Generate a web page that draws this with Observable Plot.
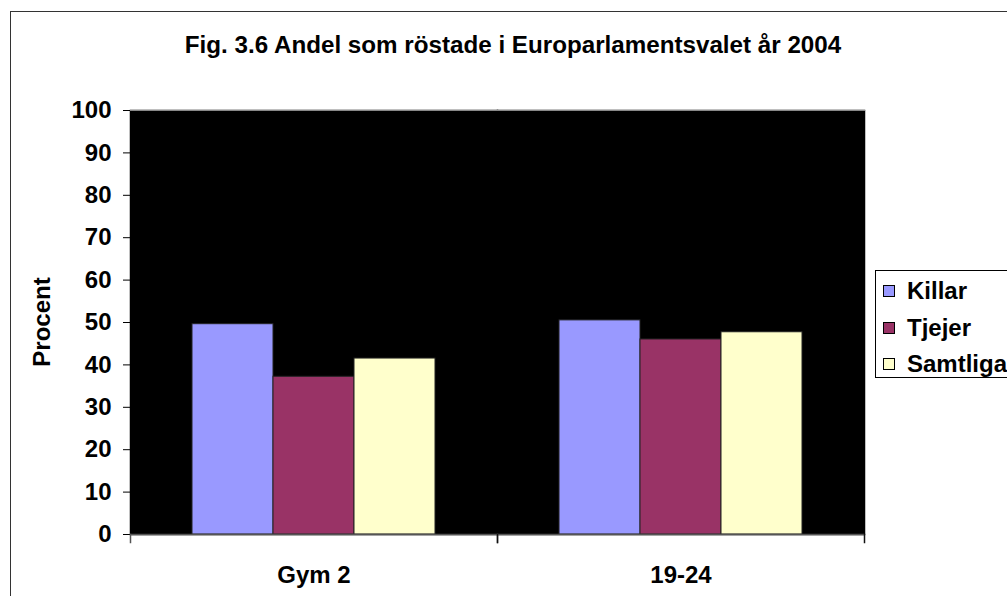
<!DOCTYPE html>
<html>
<head>
<meta charset="utf-8">
<script src="https://cdn.jsdelivr.net/npm/d3@7"></script>
<script src="https://cdn.jsdelivr.net/npm/@observablehq/plot@0.6"></script>
<style>
  html, body { margin: 0; padding: 0; background: #fff; }
  #wrap { position: relative; width: 1007px; height: 596px; overflow: hidden; font-family: "Liberation Sans", Arial, sans-serif; font-weight: bold; color: #000; }
  #border { position: absolute; left: 10px; top: 11px; width: 1100px; height: 700px; border: 1px solid #333; box-sizing: border-box; }
  #title { position: absolute; left: 11px; width: 1004px; top: 33px; text-align: center; font-size: 24.2px; line-height: 24px; white-space: nowrap; }
  #ylabel { position: absolute; left: 42px; top: 322px; font-size: 24px; line-height: 24px; transform: translate(-50%, -50%) rotate(-90deg); white-space: nowrap; }
  #chart { position: absolute; left: 0; top: 0; }
  #legend { position: absolute; left: 875px; top: 270px; width: 200px; height: 108px; border: 1px solid #000; box-sizing: border-box; background: #fff; }
  .item { position: absolute; left: 7px; font-size: 24px; line-height: 24px; white-space: nowrap; }
  .sw { display: inline-block; width: 10px; height: 10px; border: 1px solid #000; margin-right: 12px; vertical-align: 2px; }
</style>
</head>
<body>
<div id="wrap">
  <div id="border"></div>
  <div id="chart"></div>
  <div id="title"></div>
  <div id="ylabel"></div>
  <div id="legend"></div>
</div>
<script>
const titleText = "Fig. 3.6 Andel som röstade i Europarlamentsvalet år 2004";
const yLabel = "Procent";
const groups = ["Gym 2", "19-24"];
const series = ["Killar", "Tjejer", "Samtliga"];
const killar = [49.6, 50.5];
const tjejer = [37.2, 46.0];
const samtliga = [41.5, 47.7];
const colors = ["#9999FF", "#993366", "#FFFFCC"];
const yTicks = [0, 10, 20, 30, 40, 50, 60, 70, 80, 90, 100];

const valuesBySeries = [killar, tjejer, samtliga];
const data = groups.flatMap((g, i) => series.map((s, j) => ({group: g, series: s, value: valuesBySeries[j][i]})));

document.getElementById("title").textContent = titleText;
document.getElementById("ylabel").textContent = yLabel;

const legend = document.getElementById("legend");
series.forEach((s, j) => {
  const d = document.createElement("div");
  d.className = "item";
  d.style.top = (8 + j * 36.5) + "px";
  const sw = document.createElement("span");
  sw.className = "sw";
  sw.style.background = colors[j];
  d.appendChild(sw);
  d.appendChild(document.createTextNode(s));
  legend.appendChild(d);
});

const chart = Plot.plot({
  width: 1007,
  height: 596,
  marginTop: 110,
  marginBottom: 62,
  marginLeft: 129,
  marginRight: 143,
  style: {fontFamily: "'Liberation Sans', Arial, sans-serif", fontSize: "24px", fontWeight: "bold", background: "transparent", color: "#000", overflow: "visible"},
  fx: {domain: groups, padding: 0, label: null, tickSize: 0, tickPadding: 31},
  x: {domain: series, paddingInner: 0, paddingOuter: 0.74, axis: null},
  y: {domain: [0, 100], ticks: yTicks, tickSize: 7, tickPadding: 12, label: null},
  color: {domain: series, range: colors},
  marks: [
    Plot.frame({fill: "black", stroke: "black", strokeWidth: 1.5}),
    Plot.frame({anchor: "top", stroke: "#888"}),
    Plot.barY(data, {fx: "group", x: "series", y: "value", fill: "series", stroke: "#222", strokeWidth: 1}),
    Plot.ruleY([0], {stroke: "#555", strokeWidth: 1.5}),
    Plot.frame({anchor: "left", insetTop: 424, insetBottom: -8, stroke: "#555", strokeWidth: 1.5}),
    Plot.frame({anchor: "right", insetTop: 424, insetBottom: -8, stroke: "#111", strokeWidth: 1.5})
  ]
});
document.getElementById("chart").appendChild(chart);
</script>
</body>
</html>
